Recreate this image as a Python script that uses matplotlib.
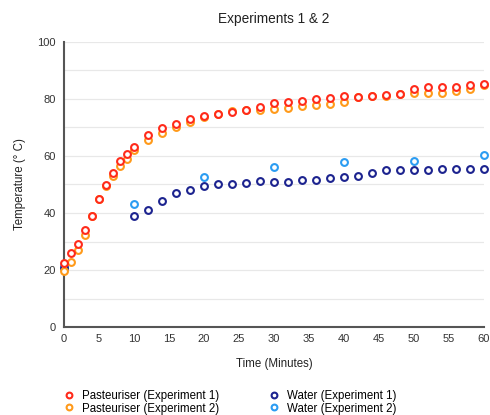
import matplotlib
matplotlib.use("Agg")
import matplotlib.pyplot as plt

plt.rcParams['font.family'] = ['Liberation Sans', 'DejaVu Sans']

time_p = [0, 1, 2, 3, 4, 5, 6, 7, 8, 9, 10, 12, 14, 16, 18, 20, 22, 24, 26, 28,
          30, 32, 34, 36, 38, 40, 42, 44, 46, 48, 50, 52, 54, 56, 58, 60]
past_exp1 = [22.3, 25.9, 29.0, 34.0, 39.1, 44.8, 49.9, 54.0, 58.2, 60.7, 63.3, 67.4,
             69.8, 71.3, 72.9, 74.1, 74.7, 75.4, 76.0, 77.3, 78.5, 78.8, 79.4, 80.0,
             80.4, 80.9, 80.8, 81.2, 81.3, 81.9, 83.5, 84.3, 84.3, 84.3, 84.9, 85.1]
past_exp2 = [19.8, 22.9, 26.9, 32.4, 39.0, 45.0, 49.5, 53.0, 56.6, 59.1, 62.1, 65.6,
             68.2, 70.1, 72.0, 73.8, 74.6, 75.7, 76.2, 76.1, 76.5, 76.8, 77.4, 77.8,
             78.2, 79.1, 80.6, 81.0, 81.2, 81.7, 82.1, 82.1, 82.1, 82.7, 83.6, 84.8]

time_w1 = [0, 10, 12, 14, 16, 18, 20, 22, 24, 26, 28, 30, 32, 34, 36, 38, 40, 42,
           44, 46, 48, 50, 52, 54, 56, 58, 60]
water_exp1 = [20.6, 39.1, 41.1, 44.1, 47.1, 48.1, 49.6, 50.2, 50.2, 50.7, 51.1, 51.0,
              51.0, 51.6, 51.6, 52.2, 52.7, 53.1, 54.2, 55.1, 55.1, 55.1, 55.1, 55.6,
              55.6, 55.6, 55.6]

time_w2 = [0, 10, 20, 30, 40, 50, 60]
water_exp2 = [21.5, 43.0, 52.8, 56.3, 57.8, 58.2, 60.4]

title = "Experiments 1 & 2"
xlabel = "Time (Minutes)"
ylabel = "Temperature (° C)"
labels = ["Pasteuriser (Experiment 1)", "Pasteuriser (Experiment 2)",
          "Water (Experiment 1)", "Water (Experiment 2)"]
colors = ["#FF2A1A", "#FF9A1A", "#1C238F", "#2B9CF2"]

fig = plt.figure(figsize=(4.9, 4.15), dpi=100)
ax = fig.add_axes([64/490, 88/415, 420/490, 285/415])

mk = dict(marker='o', linestyle='none', markersize=4.9, markeredgewidth=1.5,
          markerfacecolor='white', clip_on=False)
h1, = ax.plot(time_w2, water_exp2, color=colors[3], label=labels[3], zorder=3, **mk)
h2, = ax.plot(time_w1, water_exp1, color=colors[2], label=labels[2], zorder=4, **mk)
h3, = ax.plot(time_p, past_exp2, color=colors[1], label=labels[1], zorder=5, **mk)
h4, = ax.plot(time_p, past_exp1, color=colors[0], label=labels[0], zorder=6, **mk)

ax.set_xlim(0, 60)
ax.set_ylim(0, 100)
ax.set_xticks(range(0, 61, 5))
ax.set_yticks(range(0, 101, 20))
ax.set_yticks(range(0, 101, 10), minor=True)
ax.grid(True, which='both', axis='y', color='#E8E8E8', linewidth=0.9)
ax.set_axisbelow(True)
for s in ['top', 'right']:
    ax.spines[s].set_visible(False)
ax.spines['left'].set_color('#555555')
ax.spines['left'].set_linewidth(1.5)
ax.spines['bottom'].set_color('#555555')
ax.spines['bottom'].set_linewidth(1.5)
ax.tick_params(which='both', length=0, labelsize=8, colors='#333333', pad=6)
ax.tick_params(axis='x', pad=5)

ax.set_title(title, fontsize=9.8, color='#222222', pad=14)
ax.set_xlabel(xlabel, fontsize=8.3, color='#222222', labelpad=10)
ax.set_ylabel(ylabel, fontsize=8.3, color='#222222', labelpad=8)

leg = fig.legend([h4, h3, h2, h1], labels, ncol=2, loc='upper left',
                 bbox_to_anchor=(60/490, 30/415), frameon=False, fontsize=8.3,
                 handlelength=0.8, handletextpad=0.7, columnspacing=4.4,
                 labelspacing=0.08, markerscale=0.85, borderaxespad=0)

fig.savefig("out.png", dpi=100)
